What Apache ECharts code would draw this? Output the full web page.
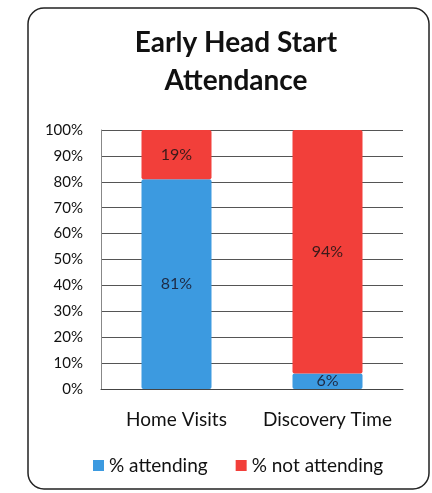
<!DOCTYPE html>
<html>
<head>
<meta charset="utf-8">
<script src="https://cdn.jsdelivr.net/npm/echarts@6/dist/echarts.min.js"></script>
<style>
  html, body { margin: 0; padding: 0; background: #fff; }
  #chart { width: 432px; height: 493px; }
</style>
</head>
<body>
<div id="chart"></div>
<script>
// data
var categories = ['Home Visits', 'Discovery Time']
var attending = [81, 6]
var notAttending = [19, 94]
var yTicks = [0, 100, 10] // min, max, step

var chart = echarts.init(document.getElementById('chart'))
var font = 'Lato, "Open Sans", sans-serif'

chart.setOption({
  backgroundColor: '#fff',
  animation: false,
  textStyle: { fontFamily: font },
  title: {
    text: 'Early Head Start\nAttendance',
    left: 231,
    top: 19,
    textAlign: 'center',
    textStyle: { fontSize: 28, fontWeight: 'bold', color: '#111', lineHeight: 38, fontFamily: font }
  },
  graphic: [
    {
      type: 'rect',
      shape: { x: 28, y: 8, width: 401, height: 481, r: 16 },
      style: { fill: 'none', stroke: '#222', lineWidth: 1.5 },
      z: -1
    }
  ],
  legend: {
    bottom: 13,
    left: 88,
    itemWidth: 11,
    itemHeight: 11,
    itemGap: 28,
    icon: 'rect',
    textStyle: { fontSize: 19, color: '#111', fontFamily: font },
    data: ['% attending', '% not attending']
  },
  grid: { left: 101, right: 29, top: 130, bottom: 104 },
  xAxis: {
    type: 'category',
    data: categories,
    axisLine: { lineStyle: { color: '#444' } },
    axisTick: { show: false },
    axisLabel: { interval: 0, hideOverlap: false, fontSize: 19, color: '#111', margin: 21, fontFamily: font }
  },
  yAxis: {
    type: 'value',
    min: yTicks[0],
    max: yTicks[1],
    interval: yTicks[2],
    axisLine: { show: true, lineStyle: { color: '#888' } },
    axisTick: { show: false },
    splitLine: { lineStyle: { color: '#555', width: 1 } },
    axisLabel: { formatter: '{value}%', fontSize: 15, color: '#111', margin: 18, fontFamily: font }
  },
  color: ['#3c9ae0', '#f23f3a'],
  series: [
    {
      name: '% attending',
      type: 'bar',
      stack: 'total',
      barWidth: 70,
      data: attending,
      itemStyle: { color: '#3c9ae0', borderRadius: 2 },
      label: { show: true, position: 'inside', formatter: '{c}%', fontSize: 16, color: '#1e2a44', fontFamily: font }
    },
    {
      name: '% not attending',
      type: 'bar',
      stack: 'total',
      barWidth: 70,
      data: notAttending,
      itemStyle: { color: '#f23f3a', borderRadius: 2 },
      label: { show: true, position: 'inside', formatter: '{c}%', fontSize: 16, color: '#3a1a1a', fontFamily: font }
    }
  ]
})
</script>
</body>
</html>
